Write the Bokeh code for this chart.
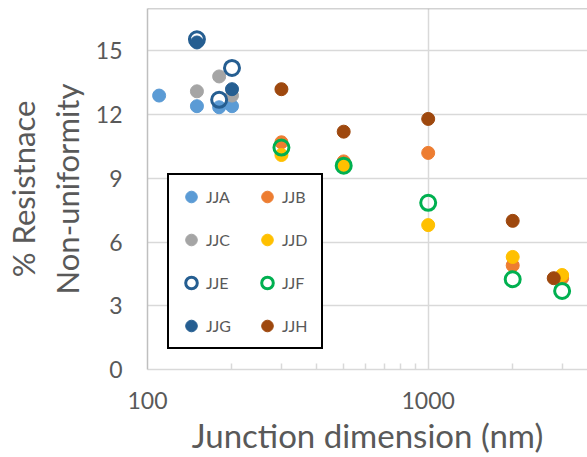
from bokeh.plotting import figure
from bokeh.models import (FixedTicker, Legend, LegendItem, Span, Range1d,
                          PrintfTickFormatter, LinearAxis)
from bokeh.embed import file_html
from bokeh.resources import INLINE

# ---- data ----
jja_x = [110, 150, 180, 200]
jja_y = [12.9, 12.4, 12.35, 12.4]
jjb_x = [300, 500, 1000, 2000, 3000]
jjb_y = [10.7, 9.8, 10.2, 4.9, 4.3]
jjc_x = [150, 180, 200]
jjc_y = [13.1, 13.8, 12.9]
jjd_x = [300, 500, 1000, 2000, 3000]
jjd_y = [10.1, 9.6, 6.8, 5.3, 4.45]
jje_x = [150, 180, 200]
jje_y = [15.55, 12.7, 14.2]
jjf_x = [300, 500, 1000, 2000, 3000]
jjf_y = [10.45, 9.6, 7.85, 4.25, 3.7]
jjg_x = [150, 200]
jjg_y = [15.4, 13.2]
jjh_x = [300, 500, 1000, 2000, 2800]
jjh_y = [13.2, 11.2, 11.8, 7.0, 4.3]

x_major_ticks = [100, 1000]
x_minor_ticks = [200, 300, 400, 500, 600, 700, 800, 900, 2000, 3000]
y_ticks = [0, 3, 6, 9, 12, 15]
x_title = "Junction dimension (nm)"
y_title_lines = ["% Resistnace", "Non-uniformity"]

FONT = "Lato"
GREY = "#595959"

p = figure(width=587, height=457, x_axis_type="log",
           x_range=Range1d(100, 3694), y_range=Range1d(0, 17),
           output_backend="svg", toolbar_location=None,
           min_border_left=147, min_border_right=0, min_border_top=8,
           min_border_bottom=88)
p.outline_line_color = None
p.background_fill_color = "white"
p.border_fill_color = "white"

series = [
    ("JJA", jja_x, jja_y, "#5B9BD5", False),
    ("JJB", jjb_x, jjb_y, "#ED7D31", False),
    ("JJC", jjc_x, jjc_y, "#A5A5A5", False),
    ("JJD", jjd_x, jjd_y, "#FFC000", False),
    ("JJE", jje_x, jje_y, "#255E91", True),
    ("JJF", jjf_x, jjf_y, "#00B050", True),
    ("JJG", jjg_x, jjg_y, "#255E91", False),
    ("JJH", jjh_x, jjh_y, "#9E480E", False),
]

items = {}
for name, xs, ys, col, ring in series:
    if ring:
        r = p.scatter(xs, ys, size=15, fill_color=None, line_color=col, line_width=3)
    else:
        r = p.scatter(xs, ys, size=13, fill_color=col, line_color=col, line_width=1)
    items[name] = LegendItem(label=name, renderers=[r])

# legend fills column by column: reorder so rows read A B / C D / E F / G H
legend_order = ["JJA", "JJC", "JJE", "JJG", "JJB", "JJD", "JJF", "JJH"]

# x axis
xa = p.xaxis[0]
xa.ticker = FixedTicker(ticks=x_major_ticks, minor_ticks=x_minor_ticks)
xa.formatter = PrintfTickFormatter(format="%d")
xa.major_tick_in = 0
xa.major_tick_out = 0
xa.minor_tick_in = 6
xa.minor_tick_out = 0
xa.minor_tick_line_color = "#D9D9D9"
xa.minor_tick_line_width = 1.5
xa.axis_line_color = "#D9D9D9"
xa.axis_line_width = 1.5
xa.major_label_text_font = FONT
xa.major_label_text_font_size = "23px"
xa.major_label_text_color = GREY
xa.major_label_standoff = 22
xa.axis_label = x_title
xa.axis_label_text_font = FONT
xa.axis_label_text_font_size = "33px"
xa.axis_label_text_font_style = "normal"
xa.axis_label_text_color = GREY
xa.axis_label_standoff = 3

# y axis (inner title line)
ya = p.yaxis[0]
ya.ticker = FixedTicker(ticks=y_ticks)
ya.major_tick_in = 0
ya.major_tick_out = 0
ya.minor_tick_line_color = None
ya.axis_line_color = "#BFBFBF"
ya.axis_line_width = 1.5
ya.major_label_text_font = FONT
ya.major_label_text_font_size = "23px"
ya.major_label_text_color = GREY
ya.major_label_standoff = 25
ya.axis_label = y_title_lines[1]
ya.axis_label_text_font = FONT
ya.axis_label_text_font_size = "31px"
ya.axis_label_text_font_style = "normal"
ya.axis_label_text_color = GREY
ya.axis_label_standoff = 7

# outer title line as a tickless extra axis
ya2 = LinearAxis(ticker=FixedTicker(ticks=[]), axis_line_color=None,
                 major_tick_in=0, major_tick_out=0, minor_tick_in=0, minor_tick_out=0,
                 major_label_standoff=0, axis_label=y_title_lines[0],
                 axis_label_text_font=FONT, axis_label_text_font_size="31px",
                 axis_label_text_font_style="normal", axis_label_text_color=GREY,
                 axis_label_standoff=3)
p.add_layout(ya2, "left")

p.xgrid.grid_line_color = "#D9D9D9"
p.xgrid.grid_line_width = 1.5
p.ygrid.grid_line_color = "#D9D9D9"
p.ygrid.grid_line_width = 1.5

p.add_layout(Span(location=17, dimension="width", line_color="#A6A6A6", line_width=1.5))

legend = Legend(items=[items[n] for n in legend_order], ncols=2, location=(20, 20),
                border_line_color="black", border_line_width=2, border_line_alpha=1,
                background_fill_color="white", background_fill_alpha=1,
                label_text_font=FONT, label_text_font_size="16px",
                label_text_color=GREY, glyph_width=30, glyph_height=29,
                label_standoff=0, label_width=32, label_height=29,
                spacing=14, padding=7, margin=0)
p.add_layout(legend, "center")

open("out.html", "w").write(file_html(p, INLINE))
